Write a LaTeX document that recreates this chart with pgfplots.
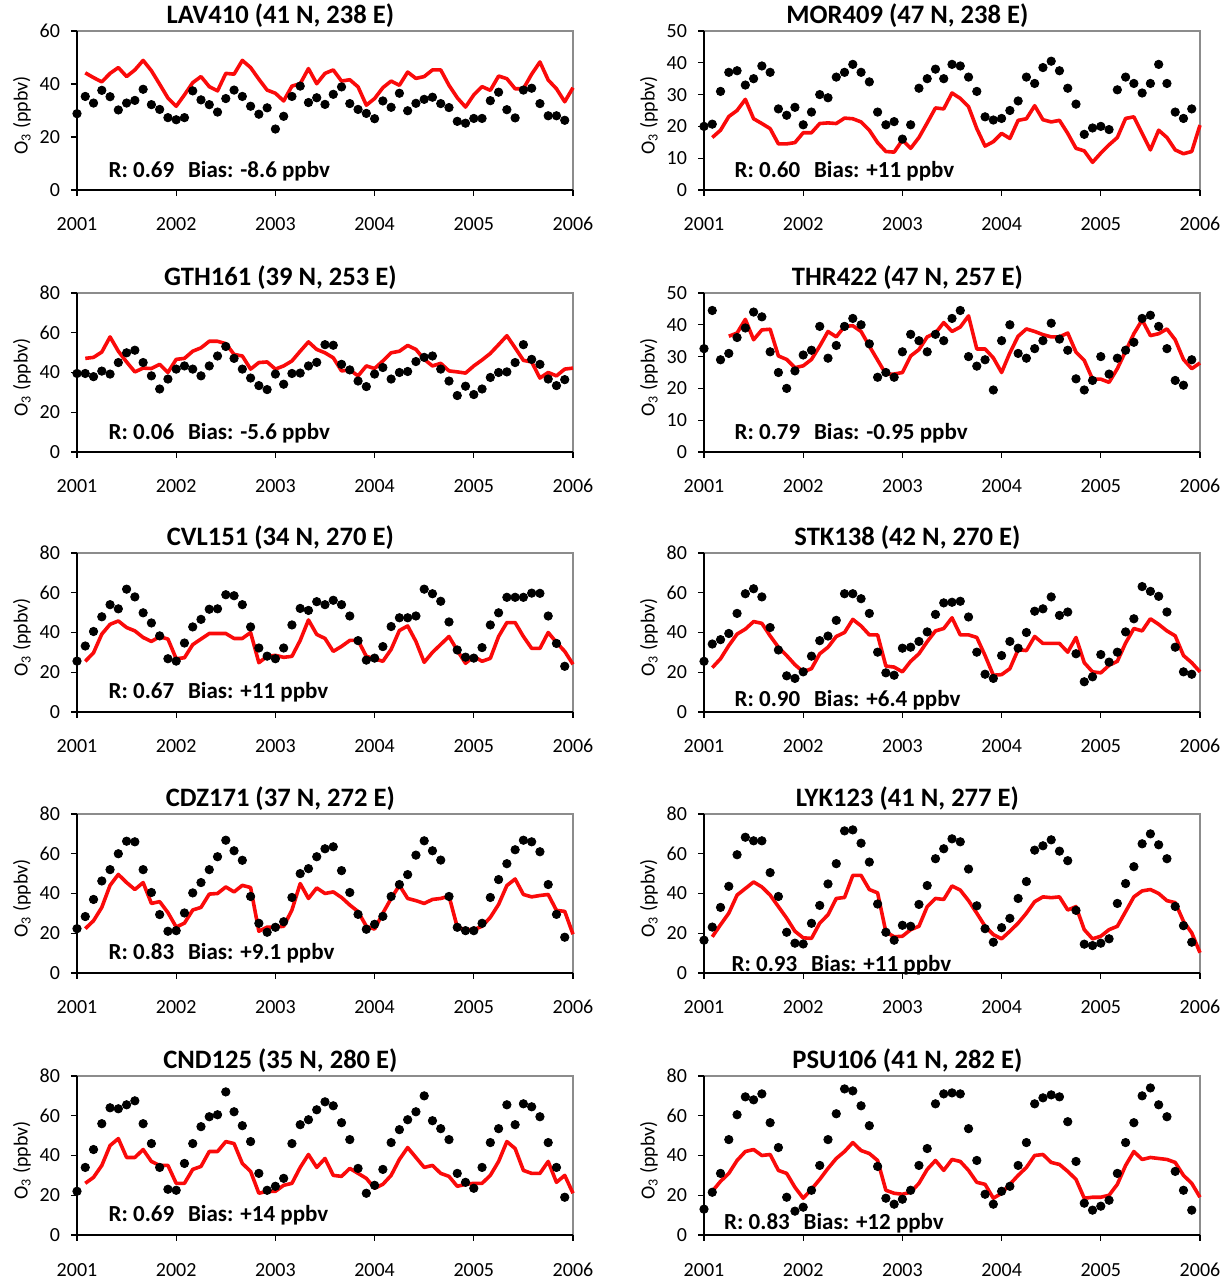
\documentclass[border=0pt]{standalone}
\usepackage{fontspec}
\setmainfont{Carlito}
\usepackage{pgfplots}
\usepackage{pgfplotstable}
\pgfplotsset{compat=1.18}

\definecolor{modelred}{RGB}{250,10,10}
\definecolor{framegray}{RGB}{140,140,140}

% Monthly mean surface ozone (ppbv); m = months since January 2001.
% obs = station measurement, mod = model
\pgfplotstableread[row sep=\\]{
m obs mod\\
0 28.8 nan\\ 1 35.3 44.2\\ 2 32.8 42.4\\ 3 37.6 40.8\\ 4 35.2 44\\ 5 30.2 46.2\\ 6 32.8 42.8\\ 7 33.8 45.3\\ 8 38 48.9\\ 9 32.2 45\\
10 30.4 39.9\\ 11 27.3 34.7\\ 12 26.5 31.6\\ 13 27.3 35.9\\ 14 37.4 40.5\\ 15 34 42.8\\ 16 32.2 39\\ 17 29.4 37.4\\ 18 34.5 44\\ 19 37.7 43.7\\
20 35.3 48.9\\ 21 31.6 46.2\\ 22 28.6 41.8\\ 23 31 37.7\\ 24 23 36.5\\ 25 27.8 33.6\\ 26 35.3 39.2\\ 27 39.2 40.1\\ 28 33 45.8\\ 29 34.8 40.1\\
30 32.3 44\\ 31 36.1 45.3\\ 32 38.9 41.1\\ 33 32.6 41.6\\ 34 30.4 38.9\\ 35 28.9 32\\ 36 26.9 34.5\\ 37 33.6 38.6\\ 38 31.2 41.1\\ 39 36.5 39.5\\
40 29.9 44.5\\ 41 32.7 42.1\\ 42 34.2 42.8\\ 43 35 45.3\\ 44 32.6 45.3\\ 45 31.1 39.5\\ 46 25.9 34.8\\ 47 25.2 31.3\\ 48 27 35.9\\ 49 27 39\\
50 33.7 37.6\\ 51 36.9 43\\ 52 30.3 42\\ 53 27.2 38.2\\ 54 37.7 38.2\\ 55 38.4 43.7\\ 56 32.6 48.3\\ 57 28 41.5\\ 58 28 38.2\\ 59 26.3 33.3\\
60 nan 38.6\\
}\tabLAV

\pgfplotstableread[row sep=\\]{
m obs mod\\
0 20 nan\\ 1 20.7 16.5\\ 2 31 18.8\\ 3 37 23.1\\ 4 37.5 25\\ 5 33 28.5\\ 6 35 22.4\\ 7 39 20.9\\ 8 37 19.3\\ 9 25.5 14.5\\
10 23.5 14.5\\ 11 26 14.9\\ 12 20.5 18\\ 13 24.5 18\\ 14 30 20.9\\ 15 29 21.1\\ 16 35.5 20.9\\ 17 37 22.6\\ 18 39.5 22.4\\ 19 37 21.4\\
20 34 18.8\\ 21 24.5 14.9\\ 22 20.5 12.1\\ 23 21.5 11.9\\ 24 16 15.7\\ 25 20.5 13.1\\ 26 32 16.5\\ 27 35 21.1\\ 28 38 25.8\\ 29 35 25.5\\
30 39.5 30.5\\ 31 39 28.8\\ 32 35.5 26.2\\ 33 31 19.3\\ 34 23 13.8\\ 35 22 15.2\\ 36 22.5 17.8\\ 37 25 16.2\\ 38 28 21.9\\ 39 35.5 22.4\\
40 33.5 26.5\\ 41 38.5 22.1\\ 42 40.5 21.4\\ 43 37.5 21.9\\ 44 32 17.8\\ 45 27 13.1\\ 46 17.5 12.3\\ 47 19.5 8.7\\ 48 20 11.6\\ 49 19 14.2\\
50 31.5 16.5\\ 51 35.5 22.5\\ 52 33.5 23\\ 53 30.5 17.8\\ 54 33.5 12.6\\ 55 39.5 18.8\\ 56 33.5 16.5\\ 57 24.5 12.6\\ 58 22.5 11.4\\ 59 25.5 12.1\\
60 nan 20.4\\
}\tabMOR

\pgfplotstableread[row sep=\\]{
m obs mod\\
0 39.5 nan\\ 1 39.5 47.1\\ 2 37.9 47.6\\ 3 40.7 50.3\\ 4 39.2 57.9\\ 5 45 50.7\\ 6 49.9 45.3\\ 7 51.2 40.3\\ 8 45 42.2\\ 9 38.3 42\\
10 31.7 44.1\\ 11 36.7 40\\ 12 41.7 46.6\\ 13 43.3 47.1\\ 14 41.7 50.7\\ 15 38.3 52.4\\ 16 43.3 55.7\\ 17 48.3 55.7\\ 18 53.1 54.5\\ 19 47.1 49.1\\
20 41.7 48.3\\ 21 37.2 41.7\\ 22 33.4 45\\ 23 31.4 45.3\\ 24 39.2 41.7\\ 25 34.1 43.3\\ 26 39.5 45.8\\ 27 39.7 50.7\\ 28 43.3 55.4\\ 29 45.1 51.6\\
30 54 49.9\\ 31 53.7 47.4\\ 32 44.1 40.8\\ 33 41.3 41.3\\ 34 35.7 38.3\\ 35 32.9 43.3\\ 36 39.2 42\\ 37 42.5 45.8\\ 38 36.7 49.9\\ 39 40 50.7\\
40 40.5 53.6\\ 41 45.5 51.6\\ 42 47.6 46.6\\ 43 48.3 43.3\\ 44 41.7 44.6\\ 45 35.7 40.8\\ 46 28.4 40.3\\ 47 33.1 39.7\\ 48 28.9 43.3\\ 49 31.7 46.3\\
50 37.5 49.6\\ 51 40 54\\ 52 40.3 58.5\\ 53 45 52.4\\ 54 54 46.1\\ 55 46.6 45.3\\ 56 44.1 37.2\\ 57 36.7 40\\ 58 33.4 38.3\\ 59 36.4 41.7\\
60 nan 42.2\\
}\tabGTH

\pgfplotstableread[row sep=\\]{
m obs mod\\
0 32.5 nan\\ 1 44.5 nan\\ 2 29 nan\\ 3 31 36.4\\ 4 36 37.4\\ 5 39 41.7\\ 6 44 35.3\\ 7 42.5 38.4\\ 8 31.5 38.6\\ 9 25 30.2\\
10 20 29.1\\ 11 25.5 26.5\\ 12 30.5 27.1\\ 13 32 29.1\\ 14 39.5 33.3\\ 15 29.5 37.9\\ 16 33.5 36.2\\ 17 39.5 39.5\\ 18 42 39.7\\ 19 40 37.9\\
20 34 33.3\\ 21 23.5 28.9\\ 22 25 24.5\\ 23 23.5 24.5\\ 24 31.5 25\\ 25 37 30.2\\ 26 35 32.2\\ 27 31.5 36.2\\ 28 37 37.4\\ 29 35 40.7\\
30 42 37.9\\ 31 44.5 39.3\\ 32 30 42.8\\ 33 27 32.4\\ 34 29 32.4\\ 35 19.5 29.6\\ 36 35 25\\ 37 40 31.2\\ 38 31 36.4\\ 39 29.5 38.7\\
40 32.5 37.9\\ 41 35 36.9\\ 42 40.5 36.2\\ 43 35.5 36.2\\ 44 32 37.4\\ 45 23 31.4\\ 46 19.5 28.8\\ 47 22.5 22.9\\ 48 30 22.9\\ 49 24.5 21.9\\
50 29.5 26.2\\ 51 32 31.7\\ 52 34.5 37.2\\ 53 42 41.5\\ 54 43 36.6\\ 55 39.5 37.2\\ 56 32.5 38.7\\ 57 22.5 35.3\\ 58 21 29.1\\ 59 29 26.2\\
60 nan 28\\
}\tabTHR

\pgfplotstableread[row sep=\\]{
m obs mod\\
0 25.6 nan\\ 1 33.2 25.5\\ 2 40.5 29.8\\ 3 47.9 39.2\\ 4 54 44.1\\ 5 51.9 45.8\\ 6 61.8 42.5\\ 7 57.9 40.8\\ 8 49.9 37.5\\ 9 44.8 35.5\\
10 38.3 37.9\\ 11 26.8 36.7\\ 12 25.6 26.8\\ 13 34.7 27.3\\ 14 42.8 33.9\\ 15 46.6 36.7\\ 16 51.7 39.5\\ 17 51.9 39.5\\ 18 59 39.5\\ 19 58.5 37\\
20 54 37\\ 21 42.8 40\\ 22 32.2 24.8\\ 23 28.1 28\\ 24 26.8 28.5\\ 25 32.2 27.5\\ 26 43.8 28\\ 27 52.1 36\\ 28 51.1 46.3\\ 29 55.5 39\\
30 54 37\\ 31 56.2 30.5\\ 32 54 33\\ 33 48.3 36\\ 34 35.9 36\\ 35 26.1 28\\ 36 27.1 26.8\\ 37 32.9 25.5\\ 38 43 31.5\\ 39 47.4 41\\
40 47.4 43.3\\ 41 48.3 35.5\\ 42 61.8 25\\ 43 59.5 30\\ 44 55.7 34\\ 45 45.3 38\\ 46 31.2 31\\ 47 27.6 24.5\\ 48 27.1 28\\ 49 32.4 25.5\\
50 43.8 27\\ 51 49.9 38\\ 52 57.7 45\\ 53 57.7 45\\ 54 57.7 38\\ 55 59.8 32\\ 56 59.7 32\\ 57 48.3 40\\ 58 34.5 35\\ 59 23 30.5\\
60 nan 24\\
}\tabCVL

\pgfplotstableread[row sep=\\]{
m obs mod\\
0 25.5 nan\\ 1 34.2 22.3\\ 2 36.4 26.8\\ 3 39.5 33.4\\ 4 49.6 39.2\\ 5 59.5 41.7\\ 6 62 45.5\\ 7 57.9 44.6\\ 8 42.5 38.3\\ 9 31.2 32.6\\
10 18.2 28.4\\ 11 16.9 23.8\\ 12 20.2 20.2\\ 13 28.1 21.8\\ 14 35.9 29.3\\ 15 38.2 32.6\\ 16 46.1 38\\ 17 59.5 40\\ 18 59.5 46.6\\ 19 57 43.3\\
20 49.6 38.8\\ 21 30.1 38.8\\ 22 19.7 23.1\\ 23 18.5 22.6\\ 24 32.1 20.2\\ 25 32.6 25.5\\ 26 35.5 29.3\\ 27 40.3 35.4\\ 28 49.1 40.8\\ 29 54.9 42\\
30 55.2 47.4\\ 31 55.7 38.8\\ 32 47.8 38.8\\ 33 30.1 37.5\\ 34 19 28.4\\ 35 16.9 18.5\\ 36 28.4 18.8\\ 37 35.5 21.8\\ 38 32.1 31.4\\ 39 40 30.9\\
40 50.7 38\\ 41 51.9 34.5\\ 42 57.9 34.5\\ 43 48.6 34.5\\ 44 50.3 30.1\\ 45 29.3 37.5\\ 46 15.2 24.8\\ 47 17.7 20.2\\ 48 28.9 19.7\\ 49 25.1 23.5\\
50 30.1 25.5\\ 51 40.3 34.7\\ 52 46.9 42\\ 53 63.1 40.8\\ 54 60.7 46.9\\ 55 58.2 44.1\\ 56 50.3 40.8\\ 57 32.6 38.3\\ 58 20.2 28.4\\ 59 19 24.8\\
60 nan 20.2\\
}\tabSTK

\pgfplotstableread[row sep=\\]{
m obs mod\\
0 22.3 nan\\ 1 28.4 22.3\\ 2 37 26.3\\ 3 46.3 33\\ 4 52 44.1\\ 5 60 49.6\\ 6 66.3 45.5\\ 7 66 42\\ 8 52 45.5\\ 9 40.5 35\\
10 29.4 35.9\\ 11 21 30.4\\ 12 21.3 23.1\\ 13 30.2 25.1\\ 14 40.3 31.7\\ 15 45.5 33\\ 16 52 39.7\\ 17 58.5 40\\ 18 66.8 43.3\\ 19 61.5 40.8\\
20 56.7 44.1\\ 21 38.5 43\\ 22 25 21\\ 23 20.5 23.1\\ 24 23 23.1\\ 25 25.8 23.5\\ 26 38 31.7\\ 27 50 45\\ 28 52.5 37.5\\ 29 58.5 42.8\\
30 62.5 40\\ 31 63.5 40.8\\ 32 51.5 38\\ 33 40.5 34.2\\ 34 29.5 30.9\\ 35 22 23.5\\ 36 24.5 22.1\\ 37 28.5 30.1\\ 38 38.5 37.5\\ 39 44.5 44.1\\
40 49.5 37.5\\ 41 59.3 36.4\\ 42 66.5 35\\ 43 61.5 37\\ 44 56.8 37.5\\ 45 38.5 38.7\\ 46 23 23.1\\ 47 21.3 21.8\\ 48 21.3 21.8\\ 49 25 23.5\\
50 38 28\\ 51 47 34.5\\ 52 55 44\\ 53 62 47.3\\ 54 66.8 39.5\\ 55 66 38.3\\ 56 61 39\\ 57 44.5 39.5\\ 58 29.5 31.5\\ 59 18 31\\
60 nan 19.5\\
}\tabCDZ

\pgfplotstableread[row sep=\\]{
m obs mod\\
0 16.5 nan\\ 1 23.1 18.2\\ 2 33 24.3\\ 3 43.6 30.1\\ 4 59.5 39.2\\ 5 68.3 42.5\\ 6 66.5 45.8\\ 7 66.5 43.3\\ 8 50.5 39.2\\ 9 38.5 33.4\\
10 20.5 27.6\\ 11 15 21\\ 12 14.6 17.7\\ 13 25 17.4\\ 14 34 25.1\\ 15 44.8 29.3\\ 16 55 37.5\\ 17 71.5 38\\ 18 72 49.1\\ 19 65.3 49.1\\
20 55.8 42\\ 21 34.7 40.3\\ 22 20.5 20.7\\ 23 16.5 18.2\\ 24 24 18.5\\ 25 23.5 21.8\\ 26 34.5 23.5\\ 27 44 33.4\\ 28 57.5 37.5\\ 29 62.5 37\\
30 67.5 43.8\\ 31 66 41.7\\ 32 52.3 36.4\\ 33 33.8 30.1\\ 34 22.3 23.5\\ 35 15.5 19.3\\ 36 22.8 17.2\\ 37 27.5 21\\ 38 37.5 25.1\\ 39 46 30.1\\
40 61.8 35.9\\ 41 64 38.3\\ 42 67 37.9\\ 43 61.3 38.3\\ 44 56.5 31.7\\ 45 31.5 33.4\\ 46 14.5 21.8\\ 47 13.8 17.2\\ 48 15 18.5\\ 49 17.2 21.8\\
50 35 23.5\\ 51 45 30.9\\ 52 53.5 38.3\\ 53 65 41.3\\ 54 70 42\\ 55 64.5 40\\ 56 57.5 36.4\\ 57 33.5 35.4\\ 58 23.8 26\\ 59 15.5 20.2\\
60 nan 10.2\\
}\tabLYK

\pgfplotstableread[row sep=\\]{
m obs mod\\
0 22 nan\\ 1 34 26\\ 2 43 29\\ 3 56 35\\ 4 64 45\\ 5 63.5 48.5\\ 6 65.5 39\\ 7 67.5 39\\ 8 56 43\\ 9 46 37\\
10 34 35\\ 11 23 35\\ 12 22.5 26\\ 13 36 26\\ 14 46 33\\ 15 54.5 34.5\\ 16 59.5 42\\ 17 60.5 42\\ 18 72 47\\ 19 62 46\\
20 55 36\\ 21 47 32\\ 22 31 21\\ 23 22.5 22\\ 24 24.5 22\\ 25 28.5 25\\ 26 46 26\\ 27 55.5 34\\ 28 58 40.5\\ 29 63 34\\
30 67 38.5\\ 31 65 30\\ 32 56.5 29.5\\ 33 48 33.5\\ 34 33.5 31\\ 35 21 28.5\\ 36 25 23.5\\ 37 33 25.5\\ 38 46.5 30\\ 39 53 38\\
40 58 44\\ 41 62 39\\ 42 70 34\\ 43 57.5 35\\ 44 53.5 31\\ 45 48 29.5\\ 46 31 24.5\\ 47 26.5 25.5\\ 48 23.5 26\\ 49 34 26\\
50 46.5 30\\ 51 53.5 37\\ 52 65.5 47\\ 53 55.5 43.5\\ 54 66 32.5\\ 55 64.5 31\\ 56 59.5 31\\ 57 46.5 37\\ 58 34 26.5\\ 59 19 30\\
60 nan 21\\
}\tabCND

\pgfplotstableread[row sep=\\]{
m obs mod\\
0 13 nan\\ 1 21.5 22\\ 2 31 27\\ 3 48 31\\ 4 60.5 37.5\\ 5 69.5 42\\ 6 68 43\\ 7 71 40\\ 8 56.5 40.5\\ 9 44 32.5\\
10 19 31\\ 11 12 24\\ 12 14 18.5\\ 13 22.5 23\\ 14 35 28\\ 15 48 33.5\\ 16 61 38.5\\ 17 73.5 42\\ 18 72.5 46.5\\ 19 65 42.5\\
20 55 41\\ 21 34.5 37.5\\ 22 18.5 22.5\\ 23 15.5 21\\ 24 18 20.5\\ 25 22.5 21.5\\ 26 35 26\\ 27 43.5 33\\ 28 66 37.5\\ 29 71 32.5\\
30 71.5 38\\ 31 71 37\\ 32 53.5 32.5\\ 33 37.5 26.5\\ 34 20.5 25.5\\ 35 15.5 18.5\\ 36 22 21\\ 37 24.5 25.5\\ 38 35 30\\ 39 46.5 34\\
40 66 40\\ 41 69 40.5\\ 42 70.5 36.5\\ 43 69.5 35.5\\ 44 57 32\\ 45 37 28\\ 46 16 18.5\\ 47 12.5 19\\ 48 14.5 19\\ 49 17.5 20\\
50 31 25.5\\ 51 46.5 35\\ 52 56.5 42\\ 53 70 38\\ 54 74 39\\ 55 65.5 38.5\\ 56 59.5 38\\ 57 32 36.5\\ 58 22.5 30\\ 59 12.5 26\\
60 nan 19\\
}\tabPSU

\pgfplotsset{
  panel/.style={
    scale only axis, width=248pt, height=79.5pt,
    anchor=south west, clip=false,
    xmin=0, xmax=60, ymin=0,
    xtick={0,12,24,36,48,60},
    xticklabels={2001,2002,2003,2004,2005,2006},
    tick pos=left, tick align=outside, major tick length=3pt,
    tick style={black, line width=0.6pt},
    axis line style={draw=none},
    /pgf/number format/assume math mode=true,
    ticklabel style={font=\fontsize{10}{11}\selectfont},
    xticklabel style={anchor=base, yshift=-17.5pt},
    yticklabel style={xshift=-2pt},
    ylabel={O\textsubscript{3} (ppbv)},
    ylabel style={at={(axis description cs:-0.111,0.47)}, anchor=center,
      font=\fontsize{10}{12}\selectfont},
    title style={at={(axis description cs:0.41,1)}, anchor=base, yshift=-2.5pt,
      font=\bfseries\fontsize{13.3}{16}\selectfont},
  },
}
\tikzset{anno/.style={anchor=west, inner sep=0pt, font=\bfseries\fontsize{11.5}{13}\selectfont}}

% #1,#2 lower-left corner, #3 ymax, #4 y ticks, #5 title, #6 table,
% #7 position of the statistics note, #8 statistics note
\newcommand{\panel}[8]{%
  \begin{axis}[panel, at={(#1,#2)}, ymax=#3, ytick={#4}, title={#5}]
    \draw[framegray, line width=0.6pt] (rel axis cs:0,1) -- (rel axis cs:1,1) -- (rel axis cs:1,0);
    \draw[black, line width=0.8pt] (rel axis cs:0,1) -- (rel axis cs:0,0) -- (rel axis cs:1,0);
    \addplot[only marks, mark=*, mark size=2.1pt, black] table[x=m, y=obs] {#6};
    \addplot[modelred, line width=1.8pt, line join=round, no markers] table[x=m, y=mod] {#6};
    \node[anno] at (rel axis cs:#7) {#8};
  \end{axis}}

\begin{document}
\begin{tikzpicture}
\useasboundingbox (0,0) rectangle (615.5pt,640pt);

\panel{38.5pt}{545pt}{60}{0,20,40,60}{LAV410 (41 N, 238 E)}{\tabLAV}{0.063,0.12}{R: 0.69\hspace{0.6em}Bias: -8.6 ppbv}
\panel{352pt}{545pt}{50}{0,10,...,50}{MOR409 (47 N, 238 E)}{\tabMOR}{0.061,0.12}{R: 0.60\hspace{0.6em}Bias: +11 ppbv}

\panel{38.5pt}{414pt}{80}{0,20,...,80}{GTH161 (39 N, 253 E)}{\tabGTH}{0.063,0.12}{R: 0.06\hspace{0.6em}Bias: -5.6 ppbv}
\panel{352pt}{414pt}{50}{0,10,...,50}{THR422 (47 N, 257 E)}{\tabTHR}{0.061,0.12}{R: 0.79\hspace{0.6em}Bias: -0.95 ppbv}

\panel{38.5pt}{284pt}{80}{0,20,...,80}{CVL151 (34 N, 270 E)}{\tabCVL}{0.063,0.125}{R: 0.67\hspace{0.6em}Bias: +11 ppbv}
\panel{352pt}{284pt}{80}{0,20,...,80}{STK138 (42 N, 270 E)}{\tabSTK}{0.061,0.077}{R: 0.90\hspace{0.6em}Bias: +6.4 ppbv}

\panel{38.5pt}{153.5pt}{80}{0,20,...,80}{CDZ171 (37 N, 272 E)}{\tabCDZ}{0.063,0.125}{R: 0.83\hspace{0.6em}Bias: +9.1 ppbv}
\panel{352pt}{153.5pt}{80}{0,20,...,80}{LYK123 (41 N, 277 E)}{\tabLYK}{0.055,0.05}{R: 0.93\hspace{0.6em}Bias: +11 ppbv}

\panel{38.5pt}{22.5pt}{80}{0,20,...,80}{CND125 (35 N, 280 E)}{\tabCND}{0.063,0.125}{R: 0.69\hspace{0.6em}Bias: +14 ppbv}
\panel{352pt}{22.5pt}{80}{0,20,...,80}{PSU106 (41 N, 282 E)}{\tabPSU}{0.04,0.073}{R: 0.83\hspace{0.6em}Bias: +12 ppbv}
\end{tikzpicture}
\end{document}
